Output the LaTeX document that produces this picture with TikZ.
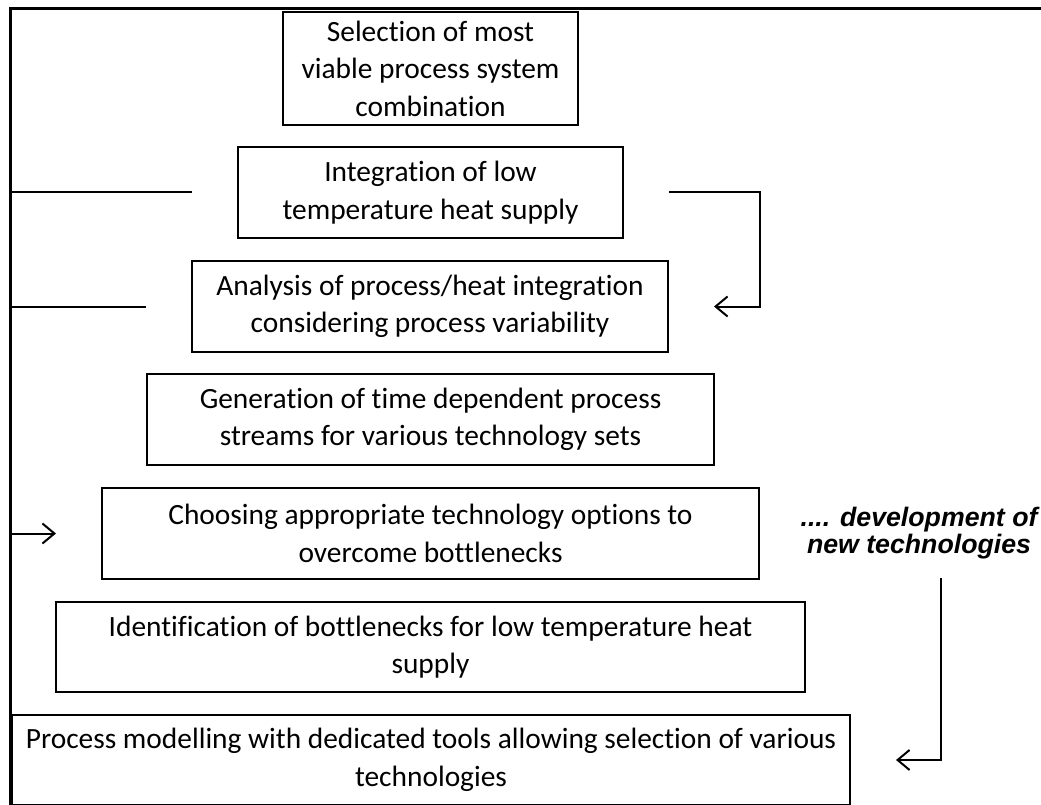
\documentclass[tikz,border=0pt]{standalone}
\usepackage{fontspec}
\setmainfont{Carlito}[Ligatures=NoCommon]
\newfontfamily\notefont{Liberation Sans}
\usetikzlibrary{arrows.meta}

\tikzset{
  stage/.style={draw, line width=2pt, align=center, inner sep=0pt,
    font=\fontsize{29.4}{37.5}\selectfont},
  link/.style={line width=2pt},
  back/.style={link, -{Straight Barb[length=12pt,width=20pt,line width=2pt]}}
}

\begin{document}
\begin{tikzpicture}[x=1pt,y=-1pt]
\useasboundingbox (0,0) rectangle (1041,805);

% Outer frame
\draw [line width=3pt] (10,805) -- (10,8.5) -- (1041,8.5);

% Stages
\node[stage, minimum width=295, minimum height=113] (sel) at (430.5,68.5)
  {Selection of most\\viable process system\\combination};
\node[stage, minimum width=385, minimum height=91] (int) at (430.5,192.5)
  {Integration of low\\temperature heat supply};
\node[stage, minimum width=476, minimum height=91] (ana) at (430,306.5)
  {Analysis of process/heat integration\\considering process variability};
\node[stage, minimum width=567, minimum height=91] (gen) at (430.5,419.5)
  {Generation of time dependent process\\streams for various technology sets};
\node[stage, minimum width=657, minimum height=91] (cho) at (430.5,533.5)
  {Choosing appropriate technology options to\\overcome bottlenecks};
\node[stage, minimum width=749, minimum height=90] (idf) at (430.5,647)
  {Identification of bottlenecks for low temperature heat\\supply};
\node[stage, minimum width=838, minimum height=90] (mod) at (431,760)
  {Process modelling with dedicated tools allowing selection of various\\technologies};

% Side note
\node[align=center, inner sep=0pt, font=\notefont\bfseries\itshape\fontsize{26.7}{27}\selectfont]
  (note) at (919,533) {.... development of\\new technologies};

% Loose ends
\coordinate (il) at ([xshift=-45pt]int.west);
\coordinate (al) at ([xshift=-45pt]ana.west);
\coordinate (cl) at ([xshift=-45pt]cho.west);
\coordinate (ir) at ([xshift=45pt]int.east);
\coordinate (ar) at ([xshift=45pt]ana.east);
\coordinate (mr) at ([xshift=45pt]mod.east);
\coordinate (nt) at (941,578);
\coordinate (spine) at (11,0);

% Feedback lines
\draw[link] (il) -| (spine |- cho.west);
\draw[link] (al) -- (spine |- al);
\draw[back] (spine |- cho.west) -- (cl);
\draw[back] (ir) -- ++(91,0) |- (ar);
\draw[back] (nt) |- (mr);
\end{tikzpicture}
\end{document}
